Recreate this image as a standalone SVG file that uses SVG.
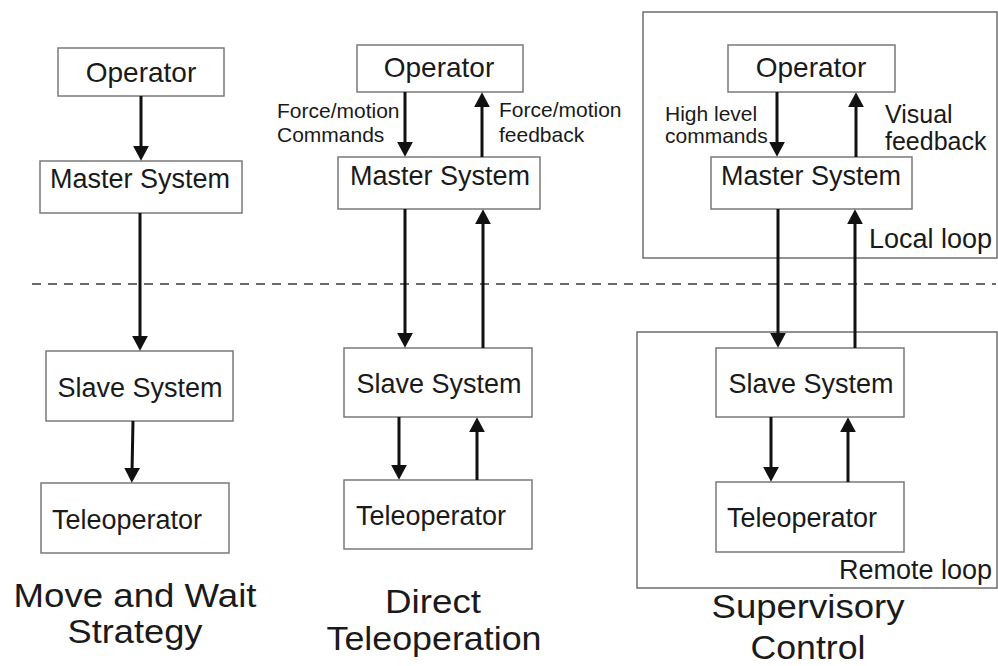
<svg xmlns="http://www.w3.org/2000/svg" width="998" height="666" viewBox="0 0 998 666">
  <style>
    .box { fill: #ffffff; stroke: #7a7a7a; stroke-width: 1.5; }
    .loop { fill: none; stroke: #6e6e6e; stroke-width: 1.5; }
    .lbl { font-family: "Liberation Sans", Arial, sans-serif; fill: #1a1a1a; }
    .node { font-size: 27px; }
    .op { font-size: 28px; }
    .small { font-size: 21px; }
    .mid { font-size: 25px; }
    .title { font-size: 34px; text-anchor: middle; }
    .c { text-anchor: middle; }
    .wire-arrow { stroke: #111111; stroke-width: 3; fill: none; marker-end: url(#head); }
    .divider { stroke: #6a6a6a; stroke-width: 2; stroke-dasharray: 9 7; fill: none; }
  </style>
  <defs>
    <marker id="head" markerUnits="userSpaceOnUse" markerWidth="16" markerHeight="16" viewBox="0 0 15 15" refX="4" refY="7.5" orient="auto">
      <path d="M0,0 L14,7.5 L0,15 z" fill="#111111"/>
    </marker>
  </defs>

  <rect width="998" height="666" fill="#ffffff"/>

  <!-- loop frames for supervisory control -->
  <g id="local-loop">
    <rect class="loop" x="643" y="12" width="354" height="246"/>
    <text class="lbl node" x="869" y="248">Local loop</text>
  </g>
  <g id="remote-loop">
    <rect class="loop" x="637" y="332" width="360" height="256"/>
    <text class="lbl node" x="992" y="579" text-anchor="end">Remote loop</text>
  </g>

  <!-- communication boundary -->
  <line class="divider" x1="32" y1="284" x2="996" y2="284"/>

  <!-- column 1: move and wait -->
  <g id="mw-operator">
    <rect class="box" x="58" y="48" width="166" height="48"/>
    <text class="lbl op c" x="141" y="82">Operator</text>
  </g>
  <g id="mw-master">
    <rect class="box" x="40" y="161" width="202" height="52"/>
    <text class="lbl node c" x="140" y="188">Master System</text>
  </g>
  <g id="mw-slave">
    <rect class="box" x="46" y="351" width="187" height="70"/>
    <text class="lbl node c" x="140" y="397">Slave System</text>
  </g>
  <g id="mw-tele">
    <rect class="box" x="41" y="483" width="188" height="70"/>
    <text class="lbl node" x="52" y="529">Teleoperator</text>
  </g>
  <text class="lbl title" x="135" y="607" textLength="243" lengthAdjust="spacingAndGlyphs">Move and Wait</text>
  <text class="lbl title" x="135" y="643" textLength="135" lengthAdjust="spacingAndGlyphs">Strategy</text>

  <!-- column 2: direct teleoperation -->
  <g id="dt-operator">
    <rect class="box" x="357" y="45" width="166" height="47"/>
    <text class="lbl op c" x="439" y="77">Operator</text>
  </g>
  <g id="dt-master">
    <rect class="box" x="338" y="157" width="202" height="52"/>
    <text class="lbl node c" x="440" y="185">Master System</text>
  </g>
  <g id="dt-slave">
    <rect class="box" x="344" y="348" width="188" height="69"/>
    <text class="lbl node c" x="439" y="393">Slave System</text>
  </g>
  <g id="dt-tele">
    <rect class="box" x="344" y="480" width="188" height="69"/>
    <text class="lbl node" x="356" y="525">Teleoperator</text>
  </g>
  <text class="lbl small" x="277" y="118">Force/motion</text>
  <text class="lbl small" x="277" y="142">Commands</text>
  <text class="lbl small" x="499" y="117">Force/motion</text>
  <text class="lbl small" x="499" y="142">feedback</text>
  <text class="lbl title" x="433" y="613" textLength="96" lengthAdjust="spacingAndGlyphs">Direct</text>
  <text class="lbl title" x="434" y="650" textLength="215" lengthAdjust="spacingAndGlyphs">Teleoperation</text>

  <!-- column 3: supervisory control -->
  <g id="sc-operator">
    <rect class="box" x="728" y="45" width="167" height="47"/>
    <text class="lbl op c" x="811" y="77">Operator</text>
  </g>
  <g id="sc-master">
    <rect class="box" x="711" y="157" width="201" height="52"/>
    <text class="lbl node c" x="811" y="185">Master System</text>
  </g>
  <g id="sc-slave">
    <rect class="box" x="716" y="348" width="188" height="69"/>
    <text class="lbl node c" x="811" y="393">Slave System</text>
  </g>
  <g id="sc-tele">
    <rect class="box" x="716" y="482" width="188" height="70"/>
    <text class="lbl node" x="727" y="527">Teleoperator</text>
  </g>
  <text class="lbl small" x="665" y="121">High level</text>
  <text class="lbl small" x="665" y="143">commands</text>
  <text class="lbl mid" x="885" y="123">Visual</text>
  <text class="lbl mid" x="885" y="150">feedback</text>
  <text class="lbl title" x="808" y="618" textLength="193" lengthAdjust="spacingAndGlyphs">Supervisory</text>
  <text class="lbl title" x="808" y="659" textLength="115" lengthAdjust="spacingAndGlyphs">Control</text>

  <!-- connectors -->
  <g id="connectors">
    <!-- move and wait -->
    <line class="wire-arrow" x1="141" y1="96" x2="141" y2="150"/>
    <line class="wire-arrow" x1="140" y1="213" x2="140" y2="340"/>
    <line class="wire-arrow" x1="133" y1="421" x2="132" y2="472"/>
    <!-- direct teleoperation -->
    <line class="wire-arrow" x1="405" y1="92" x2="405" y2="146"/>
    <line class="wire-arrow" x1="482" y1="157" x2="482" y2="103"/>
    <line class="wire-arrow" x1="405" y1="209" x2="405" y2="337"/>
    <line class="wire-arrow" x1="483" y1="348" x2="483" y2="220"/>
    <line class="wire-arrow" x1="399" y1="417" x2="399" y2="469"/>
    <line class="wire-arrow" x1="477" y1="480" x2="477" y2="428"/>
    <!-- supervisory control -->
    <line class="wire-arrow" x1="777" y1="92" x2="777" y2="146"/>
    <line class="wire-arrow" x1="856" y1="157" x2="856" y2="103"/>
    <line class="wire-arrow" x1="778" y1="209" x2="778" y2="337"/>
    <line class="wire-arrow" x1="855" y1="348" x2="855" y2="220"/>
    <line class="wire-arrow" x1="771" y1="417" x2="771" y2="471"/>
    <line class="wire-arrow" x1="848" y1="482" x2="848" y2="428"/>
  </g>
</svg>
